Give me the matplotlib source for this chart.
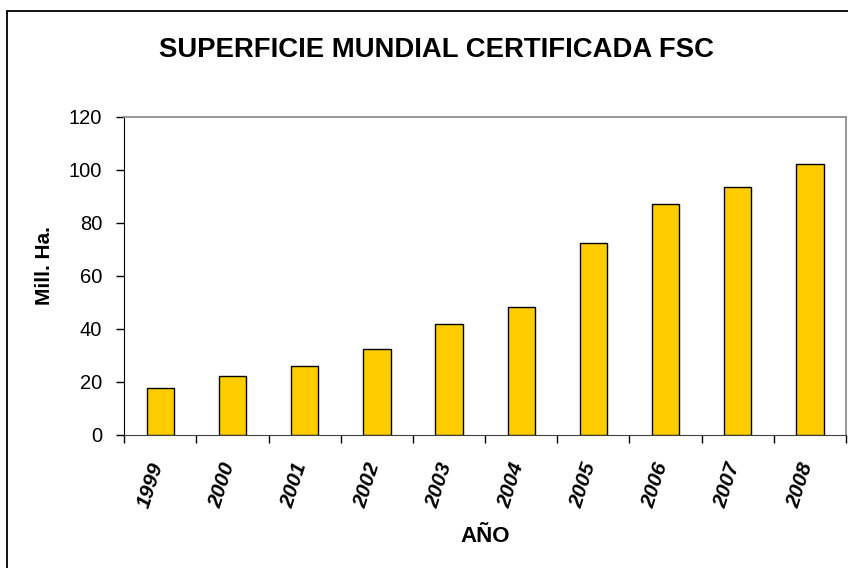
import matplotlib.pyplot as plt
import numpy as np
from matplotlib.patches import Rectangle

years = ["1999", "2000", "2001", "2002", "2003", "2004", "2005", "2006", "2007", "2008"]
superficie = [17.6, 22.4, 26.1, 32.5, 42.0, 48.4, 72.4, 87.2, 93.6, 102.3]
y_ticks = [0, 20, 40, 60, 80, 100, 120]

plt.rcParams["font.family"] = ["Liberation Sans", "DejaVu Sans"]

W, H = 848, 568
fig = plt.figure(figsize=(W / 100, H / 100), dpi=100)

# marco exterior del gráfico (recortado a la derecha y abajo como en el original)
fig.patches.append(Rectangle((7 / W, -0.2), 2.0, 1.2 - 11 / H,
                             transform=fig.transFigure, fill=False,
                             edgecolor="black", linewidth=1.3))

ax = fig.add_axes([124.3 / W, (H - 435) / H, (846 - 124.3) / W, (435 - 116.7) / H])

x = np.arange(len(years))
ax.bar(x, superficie, width=0.38, color="#FFCC00", edgecolor="black", linewidth=1.0, zorder=3)

ax.set_xlim(-0.5, len(years) - 0.5)
ax.set_ylim(0, 120)
ax.set_yticks(y_ticks)
ax.set_yticklabels([str(v) for v in y_ticks], fontsize=14.5)
ax.tick_params(axis="y", direction="out", length=6, width=1, pad=10)

# etiquetas giradas, algo desplazadas a la izquierda como en Excel
ax.set_xticks(x - 0.14)
ax.set_xticklabels(years, rotation=72, fontsize=15, fontweight="bold",
                   fontstyle="italic", ha="center", va="top")
ax.tick_params(axis="x", which="major", length=0, pad=18)
ax.set_xticks(np.arange(-0.5, len(years)), minor=True)
ax.tick_params(axis="x", which="minor", direction="out", length=6, width=1)

for side in ["top", "right"]:
    ax.spines[side].set_color("#909090")
    ax.spines[side].set_linewidth(1.3)
ax.spines["left"].set_color("black")
ax.spines["bottom"].set_color("#404040")

fig.text(436 / W, 1 - 50 / H, "SUPERFICIE MUNDIAL CERTIFICADA FSC",
         ha="center", va="center", fontsize=19.8, fontweight="bold")
fig.text(45 / W, 1 - 266 / H, "Mill. Ha.", ha="center", va="center",
         rotation=90, fontsize=15, fontweight="bold")
fig.text(485 / W, 1 - 537 / H, "AÑO", ha="center", va="center",
         fontsize=16, fontweight="bold")

fig.savefig("out.png", dpi=100)
plt.close(fig)
